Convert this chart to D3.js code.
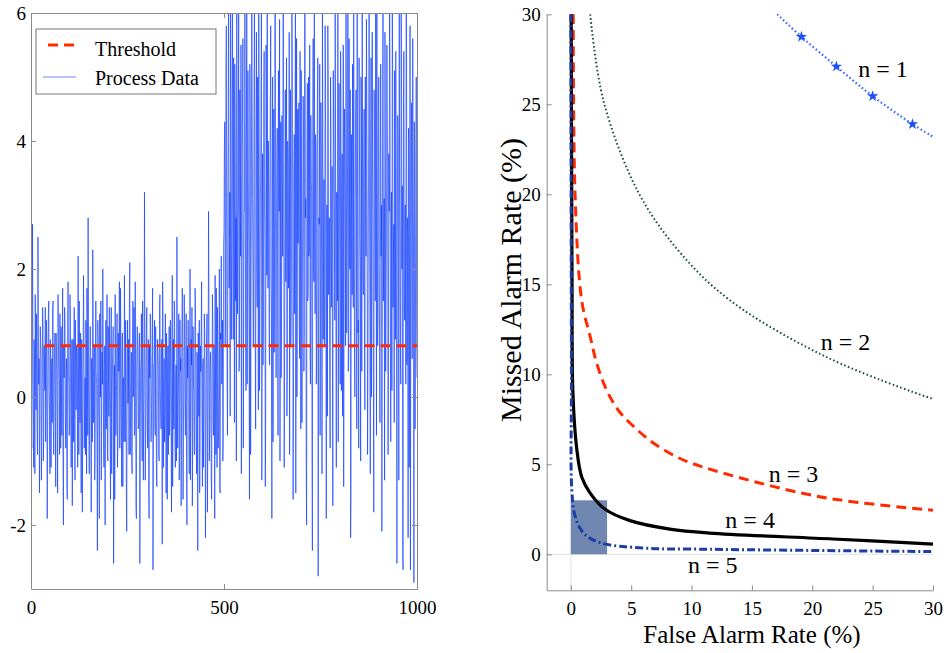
<!DOCTYPE html>
<html>
<head>
<meta charset="utf-8">
<script src="https://cdn.jsdelivr.net/npm/d3@7"></script>
<style>
  body { margin: 0; background: #fff; }
  svg { display: block; font-family: "Liberation Serif", "Times New Roman", serif; }
  .axis path, .axis line { stroke: #8a8a8a; }
  .axis text { fill: #000; font-size: 19px; font-family: "Liberation Serif", "Times New Roman", serif; }
</style>
</head>
<body>
<svg id="chart" width="948" height="653"></svg>
<script>
// ---- left panel: process data, even samples (0, 2, ... 1000) ----
const processEven = [
  // 0 - 498
  0.4, -0.8, 2.7, -0.3, 0.9, -1.2, 0.5, 1.3, -0.6, 2.5, 0.2, -1.5, 1.1, 0.6, -0.4, 1.4, -1.0, 0.8, 0.1, -0.7,
  1.2, -1.9, 0.3, 1.5, -0.2, 0.9, -1.1, 0.6, 1.3, -0.5, 0.2, 1.0, -1.4, 0.7, -0.3, 1.6, 0.4, -0.9, 0.5, 1.1,
  -0.6, 1.7, -2.0, 0.3, 1.2, -0.8, 0.6, -1.6, 1.8, 0.2, -0.4, 1.3, -1.1, 0.9, 0.0, -0.7, 1.4, -1.3, 0.5, 0.8,
  -0.2, 2.2, -0.9, 0.4, 1.0, -1.5, 0.7, -0.3, 1.9, -0.8, 0.3, 1.2, -1.2, 0.6, 2.8, -0.6, 0.1, 1.1, -1.8, 0.5,
  2.3, -0.4, 0.8, -1.0, 1.5, 0.2, -2.4, 0.9, -0.5, 1.3, 0.0, -1.3, 0.7, 2.0, -0.7, 0.4, -2.0, 1.2, 0.3, -0.9,
  1.1, -0.3, 0.6, -1.6, 1.4, -0.1, 0.8, -2.6, 0.5, 1.6, -0.6, 0.2, -1.1, 1.0, 0.4, -0.8, 1.7, -0.4, 0.9, -1.4,
  0.3, 1.9, -0.7, 0.6, -2.1, 1.2, 0.0, -0.9, 2.1, -0.3, 0.7, -1.2, 1.5, 0.2, -0.6, 1.8, -1.7, 0.5, 1.0, -0.5,
  0.8, -2.6, 0.4, 1.3, -1.0, 0.6, -0.2, 3.2, -1.3, 0.1, 1.4, -0.8, 0.9, -1.9, 0.3, 1.1, -0.4, 0.7, -2.7, 0.5,
  1.2, -0.6, 0.2, -1.4, 0.9, 0.4, -1.0, 1.6, -0.3, 0.6, -2.3, 1.0, 0.1, -0.7, 1.3, -1.5, 0.8, 0.3, -0.9, 1.1,
  -0.2, 0.7, -1.8, 1.9, 0.0, -0.5, 1.4, -1.1, 0.5, 2.5, -0.8, 0.2, -1.3, 1.2, 0.6, -0.4, 1.7, -1.6, 0.4, 0.9,
  -0.6, 1.3, -2.0, 0.3, 0.8, -1.2, 2.0, -0.3, 0.5, -1.7, 1.1, 0.1, -0.9, 1.5, -0.5, 0.7, -2.4, 0.9, 1.2, -0.7,
  0.4, 1.8, -1.4, 0.6, -0.1, 1.0, -2.2, 0.2, 1.3, -0.8, 2.9, -1.0, 0.5, 0.1, -1.6, 1.6, -0.4, 0.8, -1.9, 0.3,
  1.7, -1.1, 0.6, -0.5, 2.0, -1.5, 0.9, 0.2, 1.2, -0.7,
  // 500 - 1000
  2.6, 4.3, 1.2, 5.8, 0.4, 3.1, 6.5, 1.9, -0.3, 4.8, 2.2, 7.0, 0.9, 3.6, 5.2, 1.5, -1.0, 4.1, 2.8, 6.3,
  0.6, 3.4, 5.5, 1.8, 4.6, -0.8, 2.9, 6.8, 1.1, 3.9, 0.2, 5.1, 2.4, -1.6, 4.4, 1.6, 6.1, 3.0, 0.8, 4.9,
  2.1, -0.5, 5.7, 1.4, 3.3, 6.4, 0.1, 2.7, 4.5, -1.3, 3.8, 1.0, 5.4, 2.3, -0.2, 4.0, 6.9, 1.7, 3.2, 0.5,
  4.7, 2.0, -1.9, 5.0, 3.5, 0.7, 6.2, 1.3, 2.6, 4.2, -0.6, 3.7, 5.9, 1.5, 0.3, 4.4, 2.2, 6.6, -1.1, 3.0,
  1.8, 5.3, 0.4, 3.6, 2.5, -0.9, 4.8, 1.2, 6.0, 2.9, 0.0, 4.1, 3.3, -1.5, 5.6, 1.9, 2.4, 4.6, 0.6, 3.8,
  5.1, -0.4, 2.7, 4.3, 1.0, 6.3, 3.1, -2.0, 4.9, 1.6, 2.2, 5.5, 0.2, 3.4, -0.8, 4.0, 2.0, 6.7, 1.3, 3.9,
  0.5, 4.6, -2.8, 2.8, 5.2, 1.1, 3.5, -1.2, 4.2, 2.4, 0.8, 5.8, 1.7, 3.0, -0.3, 4.7, 2.1, 0.3, 5.0, 1.4,
  3.6, -1.7, 4.4, 2.6, 6.1, 0.9, 3.2, 1.5, -0.7, 4.9, 2.3, 5.4, 0.1, 3.8, 1.9, -1.4, 4.5, 2.7, 6.5, 1.0,
  3.3, 0.4, 5.6, 2.0, -2.2, 4.1, 1.6, 3.7, 6.2, 0.7, 2.9, 4.8, -0.5, 3.1, 1.2, 5.3, 2.5, -1.0, 4.3, 6.8,
  1.8, 3.5, 0.6, 5.0, 2.2, 4.6, -0.9, 2.8, 6.4, 1.3, 3.9, 0.0, 5.7, 2.6, -1.8, 4.2, 1.5, 3.4, 6.0, 0.8,
  4.5, 2.1, -0.4, 5.2, 3.0, 1.1, 6.6, 2.4, -1.3, 4.0, 1.7, 5.5, 3.6, 0.3, 2.9, 4.9, -0.7, 3.2, 6.3, 1.4,
  2.7, 5.1, 0.9, 3.8, -2.6, 4.4, 1.9, 6.1, 2.3, 0.2, 4.7, 3.3, -2.7, 5.4, 1.2, 3.0, 6.9, 0.5, 2.5, 4.2,
  -1.1, 5.8, 2.0, 4.6, 0.6, 3.4, -2.9, 4.0, 1.3, 5.0, 0.3
];
// odd samples (1, 3, ... 999)
const processOdd = [
  // 1 - 499
  -0.5, 1.0, 0.3, -1.1, 0.7, 1.6, -0.2, 0.4, -0.9, 1.2, 0.6, -0.3, 0.9, -1.3, 0.2, 1.1, -0.6, 0.5, 1.4, -0.1,
  0.8, -0.7, 1.3, 0.1, -1.2, 0.6, 0.3, -0.4, 1.5, -0.9, 0.7, -0.2, 1.0, 0.4, -1.5, 0.9, 0.2, 1.3, -0.8, 0.0,
  0.5, -1.0, 0.8, 1.4, -0.3, 0.2, -1.4, 1.1, 0.4, -0.6, 1.6, -0.1, 0.3, -1.7, 0.9, 0.6, -0.5, 1.2, -0.2, 0.7,
  -1.1, 0.4, 1.5, -0.4, 0.1, 0.9, -1.8, 0.5, 1.0, -0.2, -0.9, 0.8, 1.7, -0.6, 0.3, -1.2, 1.1, 0.2, 0.6, -0.7,
  1.3, -0.1, -1.3, 0.7, 0.4, -0.8, 1.2, 0.0, -1.9, 0.6, 1.5, -0.4, 0.2, 1.0, -1.1, 0.8, 0.3, -0.5, 1.6, -1.0,
  0.2, 1.4, -0.6, 0.9, -1.2, 0.5, 1.1, -0.3, -1.6, 0.7, 0.1, 1.3, -0.8, 0.4, 1.8, -0.2, 0.6, -1.4, 1.0, 0.3,
  -0.7, 0.8, 1.2, -1.5, 0.4, -0.1, 0.9, 1.6, -0.9, 0.2, -1.0, 0.7, 0.0, 1.4, -0.5, 0.5, -1.9, 1.1, 0.3, -0.4,
  1.0, -0.8, 0.6, -0.2, 1.5, -1.3, 0.4, 0.9, -0.6, 1.2, -0.3, 0.1, -1.5, 0.8, 1.3, -0.7, 0.2, 1.7, -1.1, 0.5,
  -0.4, 1.1, -1.2, 0.3, 0.7, -0.9, 1.4, 0.1, -0.5, 0.9, 1.8, -1.1, 0.6, -0.2, 0.4, 1.0, -1.6, 0.8, 0.2, -0.6,
  1.2, -0.3, 0.5, -1.4, 0.9, 1.5, -0.7, 0.3, -1.0, 0.6, 0.0, 1.3, -0.8, 0.4, -1.7, 1.1, 0.7, -0.4, 1.6, -0.2,
  0.3, -1.0, 0.8, 1.2, -0.5, 0.1, -1.3, 0.9, 1.4, -0.6, 0.2, -0.9, 1.7, 0.4, -1.2, 0.6, 1.0, -0.3, -1.5, 0.8,
  1.1, -0.2, 0.5, -1.1, 1.3, 0.0, -0.7, 0.9, -1.8, 0.4, 1.5, -0.4, 0.7, -1.3, 0.2, 1.2, -0.6, 0.3, 1.9, -0.9,
  0.6, 1.4, -0.8, 0.2, -1.4, 1.0, 2.2, 0.5, -1.0, 2.4,
  // 501 - 999
  3.9, 0.8, 5.0, 2.5, -0.6, 4.4, 1.7, 3.2, 6.2, 0.9, 3.6, 2.0, 5.3, -0.4, 4.1, 2.8, 6.6, 1.3, 3.0, 0.4,
  4.8, 2.2, -1.2, 3.7, 5.6, 1.5, 2.9, 4.3, 0.1, 6.0, 2.6, 3.4, 1.0, 5.2, -0.9, 3.1, 4.6, 1.8, 2.4, 6.4,
  0.7, 3.9, 2.1, 5.0, -0.2, 4.2, 1.4, 3.6, 6.7, 2.3, 0.5, 4.7, 3.0, -1.4, 5.5, 1.9, 2.7, 4.0, 0.9, 3.3,
  5.8, 1.2, 3.5, -0.7, 4.5, 2.4, 6.1, 0.3, 3.8, 1.6, 5.1, 2.9, -1.0, 4.3, 1.0, 3.2, 6.5, 2.0, 0.6, 4.8,
  2.5, -0.3, 4.0, 1.7, 5.7, 3.1, 0.8, 2.6, 4.9, -1.6, 3.4, 1.3, 6.3, 2.2, 0.0, 4.5, 3.7, 1.1, 5.4, -0.5,
  3.0, 1.9, 4.7, 0.4, 6.8, 2.8, -1.1, 3.9, 1.5, 5.0, 2.3, 0.7, 4.4, 3.2, -2.4, 5.6, 1.8, 2.5, 4.1, 0.2,
  3.7, 5.3, 1.0, 2.7, -0.6, 4.6, 2.0, 6.0, 0.9, 3.4, 1.4, 4.9, -1.9, 3.0, 5.8, 1.6, 2.8, -0.8, 4.3, 2.1,
  0.5, 5.1, 3.3, 1.2, 4.0, -1.1, 2.6, 6.3, 1.7, 3.5, 0.2, 4.6, 2.9, -0.3, 5.5, 1.1, 3.8, 0.8, 4.2, 2.4,
  6.0, 0.6, 3.1, 4.8, -1.5, 2.3, 5.2, 1.4, 3.6, 0.0, 4.4, 2.7, 6.5, 1.0, -0.8, 3.9, 2.0, 5.0, 0.4, 3.2,
  1.6, 4.5, -0.2, 3.3, 5.9, 2.1, 0.7, 4.1, 2.8, -1.2, 5.3, 1.9, 3.5, 0.3, 4.8, 2.5, 6.2, -0.6, 3.0, 1.3,
  5.0, 0.9, 3.7, 2.2, -2.1, 4.6, 1.5, 3.1, 5.7, 0.4, 2.6, 4.3, -0.9, 3.8, 6.1, 1.2, 2.9, 0.1, 4.9, 2.3,
  -0.4, 3.6, 5.4, 1.0, 2.5, 4.1, -1.3, 3.3, 0.8, 6.4, 2.0, -2.5, 4.7, 1.7, 3.0, 0.2, 5.2, 2.8, -2.2, 4.0,
  1.4, -2.7, 3.5, 0.6, 5.6, 2.2, 4.3, -0.5, 2.9, 1.1
];
const thresholdValue = 0.8;
const thresholdSpan = [35, 1000];
const leftXTicks = [0, 500, 1000];
const leftYTicks = [-2, 0, 2, 4, 6];

// ---- right panel: missed vs false alarm rate (%) ----
const n1Fa   = [17.1, 19.1, 22.0, 25.0, 28.3, 30];
const n1Miss = [30, 28.75, 27.1, 25.45, 23.9, 23.2];
const n1MarkFa   = [19.1, 22.0, 25.0, 28.3];
const n1MarkMiss = [28.75, 27.1, 25.45, 23.9];
const n2Fa   = [1.6, 2.7, 5.6, 9.0, 13.2, 21.2, 29.7, 30];
const n2Miss = [30, 25.2, 20.1, 16.8, 14.1, 10.95, 8.7, 8.65];
const n3Fa   = [0.2, 0.35, 0.9, 1.6, 2.15, 2.98, 3.94, 5.2, 6.8, 8.8, 10.7, 20.6, 30];
const n3Miss = [30, 20, 14.1, 12.1, 10.6, 9.1, 8.0, 7.1, 6.2, 5.4, 4.9, 3.2, 2.45];
const n4Fa   = [0.03, 0.1, 0.17, 0.5, 0.9, 1.6, 2.84, 4.9, 8.2, 11.5, 21.7, 30];
const n4Miss = [30, 15, 9, 5.8, 4.3, 3.4, 2.5, 1.87, 1.4, 1.18, 0.85, 0.57];
const n5Fa   = [0.0, 0.05, 0.08, 0.36, 1.05, 2.4, 6, 11.5, 30];
const n5Miss = [30, 10, 3.6, 2.1, 1.18, 0.65, 0.35, 0.28, 0.15];
const targetBox = [3, 3];   // false alarm, missed alarm limits
const curveNames = ['n = 1', 'n = 2', 'n = 3', 'n = 4', 'n = 5'];
const labelFa   = [23.8, 20.7, 16.4, 12.8, 9.7];
const labelMiss = [26.5, 11.35, 4.0, 1.46, -1.02];
const rightTicks = [0, 5, 10, 15, 20, 25, 30];

const svg = d3.select('#chart');

/* left panel */
const processData = [];
processEven.forEach((v, i) => {
  processData.push(v);
  if (i < processOdd.length) processData.push(processOdd[i]);
});

const xL = d3.scaleLinear().domain([0, 1000]).range([31, 417]);
const yL = d3.scaleLinear().domain([-3, 6]).range([589, 13]);

svg.append('defs').append('clipPath').attr('id', 'clipL')
  .append('rect').attr('x', xL(0)).attr('y', yL(6))
  .attr('width', xL(1000) - xL(0)).attr('height', yL(-3) - yL(6));

const left = svg.append('g');

left.append('path')
  .datum(processData)
  .attr('clip-path', 'url(#clipL)')
  .attr('fill', 'none')
  .attr('stroke', '#0a38ff')
  .attr('stroke-width', 0.65)
  .attr('d', d3.line().x((d, i) => xL(i)).y(d => yL(d)));

left.append('line')
  .attr('x1', xL(thresholdSpan[0])).attr('x2', xL(thresholdSpan[1]))
  .attr('y1', yL(thresholdValue)).attr('y2', yL(thresholdValue))
  .attr('stroke', '#ff2a00').attr('stroke-width', 3)
  .attr('stroke-dasharray', '10,6');

const fmt = d => String(d);
left.append('g').attr('class', 'axis')
  .attr('transform', `translate(0,${yL(-3)})`)
  .call(d3.axisBottom(xL).tickValues(leftXTicks).tickFormat(fmt).tickSizeInner(-5).tickSizeOuter(0).tickPadding(12));
left.append('g').attr('class', 'axis')
  .attr('transform', `translate(0,${yL(6)})`)
  .call(d3.axisTop(xL).tickValues(leftXTicks).tickSizeInner(-5).tickSizeOuter(0).tickFormat(''));
left.append('g').attr('class', 'axis')
  .attr('transform', `translate(${xL(0)},0)`)
  .call(d3.axisLeft(yL).tickValues(leftYTicks).tickFormat(fmt).tickSizeInner(-5).tickSizeOuter(0).tickPadding(5));
left.append('g').attr('class', 'axis')
  .attr('transform', `translate(${xL(1000)},0)`)
  .call(d3.axisRight(yL).tickValues(leftYTicks).tickSizeInner(-5).tickSizeOuter(0).tickFormat(''));

// legend
const legend = left.append('g').attr('transform', 'translate(36,29)');
legend.append('rect').attr('width', 180).attr('height', 65)
  .attr('fill', '#fff').attr('stroke', '#777').attr('stroke-width', 1);
legend.append('line').attr('x1', 12).attr('x2', 40).attr('y1', 16).attr('y2', 16)
  .attr('stroke', '#ff2a00').attr('stroke-width', 3).attr('stroke-dasharray', '10,6');
legend.append('line').attr('x1', 7).attr('x2', 40).attr('y1', 48).attr('y2', 48)
  .attr('stroke', '#6f8cff').attr('stroke-width', 1);
legend.append('text').attr('x', 59).attr('y', 27).attr('font-size', 20).text('Threshold');
legend.append('text').attr('x', 59).attr('y', 56).attr('font-size', 20).text('Process Data');

/* right panel */
const xR = d3.scaleLinear().domain([-2, 30]).range([546.7, 933]);
const yR = d3.scaleLinear().domain([-2, 30]).range([590.3, 14.3]);
const right = svg.append('g');

// zero reference lines
right.append('line').attr('x1', xR(0)).attr('x2', xR(0)).attr('y1', yR(-2)).attr('y2', yR(30))
  .attr('stroke', '#e0e0e0').attr('stroke-width', 1);
right.append('line').attr('x1', xR(-2)).attr('x2', xR(30)).attr('y1', yR(0)).attr('y2', yR(0))
  .attr('stroke', '#e0e0e0').attr('stroke-width', 1);

right.append('rect')
  .attr('x', xR(0)).attr('y', yR(targetBox[1]))
  .attr('width', xR(targetBox[0]) - xR(0)).attr('height', yR(0) - yR(targetBox[1]))
  .attr('fill', '#7087b1');

const curveLine = d3.line().x(d => xR(d[0])).y(d => yR(d[1])).curve(d3.curveCatmullRom.alpha(0.5));
const series = [
  { fa: n2Fa, miss: n2Miss, color: '#1f5040', width: 2, dash: '1.6,2.4' },
  { fa: n3Fa, miss: n3Miss, color: '#ff2a00', width: 3, dash: '10,6' },
  { fa: n4Fa, miss: n4Miss, color: '#000', width: 3.2, dash: null },
  { fa: n5Fa, miss: n5Miss, color: '#1b3ea6', width: 3, dash: '8,3,2,3' },
  { fa: n1Fa, miss: n1Miss, color: '#3a6cff', width: 2.2, dash: '1.6,2.4' }
];
series.forEach(s => {
  right.append('path')
    .datum(d3.zip(s.fa, s.miss))
    .attr('fill', 'none')
    .attr('stroke', s.color)
    .attr('stroke-width', s.width)
    .attr('stroke-dasharray', s.dash)
    .attr('d', curveLine);
});

right.selectAll('path.mark')
  .data(d3.zip(n1MarkFa, n1MarkMiss))
  .join('path')
  .attr('class', 'mark')
  .attr('transform', d => `translate(${xR(d[0])},${yR(d[1])})`)
  .attr('d', d3.symbol().type(d3.symbolStar).size(40))
  .attr('fill', '#1f4fff');

right.selectAll('text.nlab')
  .data(curveNames)
  .join('text')
  .attr('class', 'nlab')
  .attr('x', (d, i) => xR(labelFa[i]))
  .attr('y', (d, i) => yR(labelMiss[i]))
  .attr('font-size', 24)
  .text(d => d);

right.append('g').attr('class', 'axis')
  .attr('transform', `translate(0,${yR(-2)})`)
  .call(d3.axisBottom(xR).tickValues(rightTicks).tickFormat(fmt).tickSizeInner(-5).tickSizeOuter(0).tickPadding(11));
right.append('g').attr('class', 'axis')
  .attr('transform', `translate(${xR(-2)},0)`)
  .call(d3.axisLeft(yR).tickValues(rightTicks).tickFormat(fmt).tickSizeInner(-5).tickSizeOuter(0).tickPadding(6));

right.append('text')
  .attr('x', 752).attr('y', 643)
  .attr('text-anchor', 'middle').attr('font-size', 25)
  .text('False Alarm Rate (%)');
right.append('text')
  .attr('transform', 'translate(521,280) rotate(-90)')
  .attr('text-anchor', 'middle').attr('font-size', 30)
  .text('Missed Alarm Rate (%)');
</script>
</body>
</html>
